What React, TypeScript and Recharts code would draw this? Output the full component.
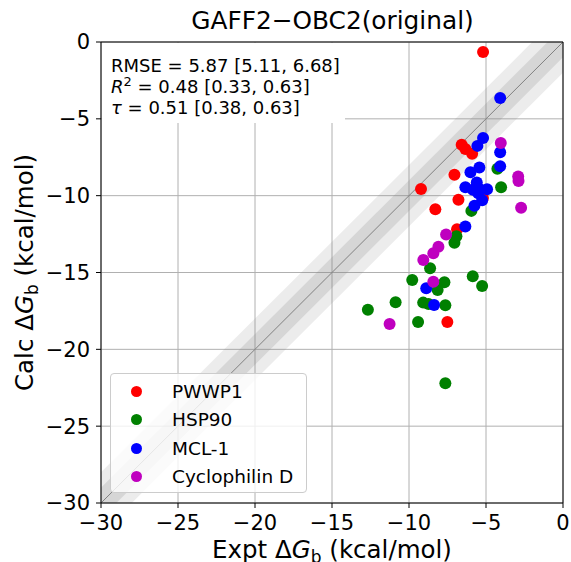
import React from 'react';
import {
  ComposedChart,
  Scatter,
  Area,
  XAxis,
  YAxis,
  CartesianGrid,
  ReferenceLine,
  Legend,
} from 'recharts';

const FONT = 'DejaVu Sans, sans-serif';
const AXIS_MIN = -30;
const AXIS_MAX = 0;
const ticks = [-30, -25, -20, -15, -10, -5, 0];

// expt (x) vs calc (y), kcal/mol
const pwwp1 = [
  { x: -5.19, y: -0.65 },
  { x: -6.58, y: -6.69 },
  { x: -6.34, y: -6.97 },
  { x: -5.9, y: -7.28 },
  { x: -7.05, y: -8.64 },
  { x: -9.22, y: -9.56 },
  { x: -6.79, y: -10.27 },
  { x: -5.2, y: -10.15 },
  { x: -8.29, y: -10.88 },
  { x: -6.88, y: -12.18 },
  { x: -7.51, y: -18.22 },
];

const hsp90 = [
  { x: -4.26, y: -8.25 },
  { x: -4.02, y: -9.45 },
  { x: -5.95, y: -10.99 },
  { x: -6.92, y: -12.64 },
  { x: -7.05, y: -13.06 },
  { x: -8.63, y: -14.72 },
  { x: -9.79, y: -15.49 },
  { x: -7.7, y: -15.64 },
  { x: -5.86, y: -15.24 },
  { x: -5.25, y: -15.88 },
  { x: -8.14, y: -16.14 },
  { x: -10.87, y: -16.94 },
  { x: -12.67, y: -17.42 },
  { x: -9.08, y: -16.96 },
  { x: -8.73, y: -17.05 },
  { x: -7.64, y: -17.13 },
  { x: -9.41, y: -18.22 },
  { x: -7.64, y: -22.21 },
];

const mcl1 = [
  { x: -4.08, y: -3.65 },
  { x: -5.19, y: -6.25 },
  { x: -5.56, y: -6.76 },
  { x: -4.08, y: -7.17 },
  { x: -4.08, y: -8.08 },
  { x: -5.43, y: -8.17 },
  { x: -6.01, y: -8.47 },
  { x: -6.34, y: -9.45 },
  { x: -5.6, y: -9.15 },
  { x: -5.45, y: -9.55 },
  { x: -4.93, y: -9.58 },
  { x: -5.85, y: -9.62 },
  { x: -5.5, y: -9.85 },
  { x: -5.25, y: -10.3 },
  { x: -5.75, y: -10.65 },
  { x: -6.34, y: -12.01 },
  { x: -8.88, y: -16.03 },
  { x: -8.37, y: -17.11 },
];

const cypd = [
  { x: -4.04, y: -6.58 },
  { x: -2.91, y: -8.75 },
  { x: -2.89, y: -9.04 },
  { x: -2.72, y: -10.78 },
  { x: -7.59, y: -12.53 },
  { x: -8.09, y: -13.32 },
  { x: -8.42, y: -13.75 },
  { x: -9.07, y: -14.18 },
  { x: -8.42, y: -15.6 },
  { x: -11.26, y: -18.35 },
];

const seriesNames = ['PWWP1', 'HSP90', 'MCL-1', 'Cyclophilin D'];
const seriesColors = ['#ff0000', '#008000', '#0000ff', '#bf00bf'];
const seriesData = [pwwp1, hsp90, mcl1, cypd];

const statValues = ['5.87', '0.48', '0.51'];
const statCIs = ['[5.11, 6.68]', '[0.33, 0.63]', '[0.38, 0.63]'];

// shaded bands around y = x (1 and 2 kcal/mol)
const bandData = [AXIS_MIN, AXIS_MAX].map((v) => ({
  x: v,
  inner: [v - 1, v + 1],
  outer: [v - 2, v + 2],
}));

const fmt = (v: number) => (v < 0 ? `\u2212${-v}` : `${v}`);

const dot = (color: string) => (p: any) =>
  <circle cx={p.cx} cy={p.cy} r={6} fill={color} />;

const renderLegend = () => (
  <div
    style={{
      width: 197,
      height: 120,
      boxSizing: 'border-box',
      border: '1px solid #cccccc',
      borderRadius: 4,
      background: 'rgba(255,255,255,0.8)',
      paddingTop: 3,
      fontFamily: FONT,
      fontSize: 18.5,
      color: '#000',
    }}
  >
    {seriesNames.map((name, i) => (
      <div key={name} style={{ display: 'flex', alignItems: 'center', height: 28.5 }}>
        <span
          style={{
            display: 'inline-block',
            width: 11,
            height: 11,
            borderRadius: '50%',
            background: seriesColors[i],
            marginLeft: 20,
            marginRight: 30,
          }}
        />
        <span>{name}</span>
      </div>
    ))}
  </div>
);

const XLabel = (props: any) => {
  const vb = props.viewBox;
  return (
    <text x={vb.x + vb.width / 2} y={vb.y + 55} textAnchor="middle" fontSize={24.5} fontFamily={FONT} fill="#000">
      <tspan>Expt Δ</tspan>
      <tspan fontStyle="italic">G</tspan>
      <tspan fontSize={17} dy={5}>b</tspan>
      <tspan dy={-5}> (kcal/mol)</tspan>
    </text>
  );
};

const YLabel = (props: any) => {
  const vb = props.viewBox;
  const cx = vb.x + 33;
  const cy = vb.y + vb.height / 2;
  return (
    <text x={cx} y={cy} transform={`rotate(-90 ${cx} ${cy})`} textAnchor="middle" fontSize={24.5} fontFamily={FONT} fill="#000">
      <tspan>Calc Δ</tspan>
      <tspan fontStyle="italic">G</tspan>
      <tspan fontSize={17} dy={5}>b</tspan>
      <tspan dy={-5}> (kcal/mol)</tspan>
    </text>
  );
};

export default function App() {
  const tickStyle = { fill: '#000', fontSize: 21, fontFamily: FONT };
  return (
    <div style={{ position: 'absolute', left: 0, top: 0, width: 571, height: 562, background: '#fff' }}>
      <ComposedChart
        width={571}
        height={562}
        data={bandData}
        margin={{ top: 42, right: 8, left: 0, bottom: 0 }}
        style={{ fontFamily: FONT }}
      >
        <CartesianGrid stroke="#b0b0b0" strokeWidth={1} />
        <XAxis
          dataKey="x"
          type="number"
          domain={[AXIS_MIN, AXIS_MAX]}
          ticks={ticks}
          allowDataOverflow
          tickFormatter={fmt}
          tick={tickStyle}
          tickSize={5}
          tickMargin={7}
          tickLine={{ stroke: '#000' }}
          axisLine={{ stroke: '#000' }}
          height={59}
          label={<XLabel />}
        />
        <YAxis
          type="number"
          domain={[AXIS_MIN, AXIS_MAX]}
          ticks={ticks}
          allowDataOverflow
          tickFormatter={fmt}
          tick={tickStyle}
          tickSize={5}
          tickMargin={6}
          tickLine={{ stroke: '#000' }}
          axisLine={{ stroke: '#000' }}
          width={101}
          label={<YLabel />}
        />
        <Area
          dataKey="outer"
          type="linear"
          stroke="none"
          fill="#808080"
          fillOpacity={0.15}
          dot={false}
          activeDot={false}
          isAnimationActive={false}
          legendType="none"
        />
        <Area
          dataKey="inner"
          type="linear"
          stroke="none"
          fill="#808080"
          fillOpacity={0.2}
          dot={false}
          activeDot={false}
          isAnimationActive={false}
          legendType="none"
        />
        <ReferenceLine
          segment={[{ x: AXIS_MIN, y: AXIS_MIN }, { x: AXIS_MAX, y: AXIS_MAX }]}
          stroke="#808080"
          strokeWidth={1}
        />
        {seriesData.map((d, i) => (
          <Scatter
            key={seriesNames[i]}
            name={seriesNames[i]}
            data={d}
            dataKey="y"
            fill={seriesColors[i]}
            shape={dot(seriesColors[i])}
            isAnimationActive={false}
          />
        ))}
        <ReferenceLine y={AXIS_MAX} stroke="#000" />
        <ReferenceLine x={AXIS_MAX} stroke="#000" />
        <Legend
          layout="vertical"
          align="center"
          verticalAlign="middle"
          content={renderLegend}
          wrapperStyle={{ left: 110, top: 373, width: 197 }}
        />
        <text x={332.5} y={28.5} textAnchor="middle" fontSize={24.8} fontFamily={FONT} fill="#000">
          GAFF2−OBC2(original)
        </text>
        <g>
          <rect x={102} y={43} width={243} height={80} rx={3} fill="#fff" />
          <text x={111} y={72} fontSize={18} fontFamily={FONT} fill="#000">
            RMSE = {statValues[0]} {statCIs[0]}
          </text>
          <text x={111} y={93} fontSize={18} fontFamily={FONT} fill="#000">
            <tspan fontStyle="italic">R</tspan>
            <tspan fontSize={13} dy={-7}>2</tspan>
            <tspan dy={7}> = {statValues[1]} {statCIs[1]}</tspan>
          </text>
          <text x={111} y={114} fontSize={18} fontFamily={FONT} fill="#000">
            <tspan fontStyle="italic">τ</tspan>
            <tspan> = {statValues[2]} {statCIs[2]}</tspan>
          </text>
        </g>
      </ComposedChart>
    </div>
  );
}
